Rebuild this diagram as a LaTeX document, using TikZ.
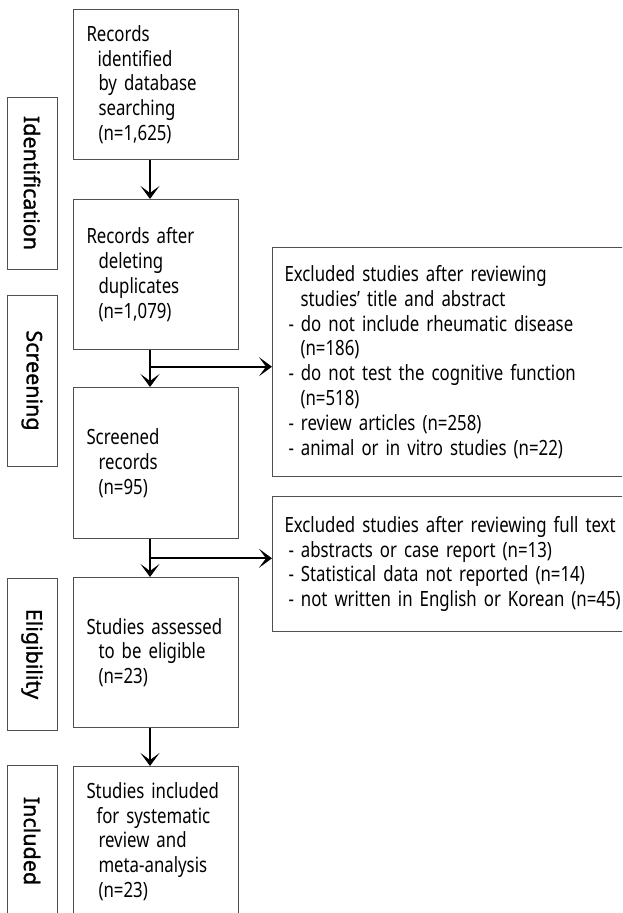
\documentclass[tikz,border=0pt]{standalone}
\usepackage{fontspec}
\setmainfont{Noto Sans}[FakeStretch=0.8]
\newfontfamily\labelfont{Noto Sans}[FakeBold=1.2]
\usetikzlibrary{arrows.meta}
\definecolor{boxgray}{RGB}{80,80,80}
\begin{document}
\begin{tikzpicture}[x=1pt,y=-1pt,
  mainbox/.style={draw=boxgray, line width=1pt, anchor=north west, inner xsep=13pt, inner ysep=0pt,
    text width=139pt, minimum height=150pt, align=left, font=\fontsize{21}{24.8}\selectfont},
  sidebox/.style={draw=boxgray, line width=1pt, rotate=-90, minimum height=50pt, inner sep=0pt,
    font=\labelfont\fontsize{21.5}{22}\selectfont},
  exbox/.style={draw=boxgray, line width=1pt, anchor=north west, inner xsep=12pt, inner ysep=0pt,
    text width=350pt, align=left, font=\fontsize{21}{24.8}\selectfont},
  arr/.style={draw=black, line width=1.8pt, -{Stealth[length=13pt,width=19pt,inset=7pt]}}]
\clip (0,0) rectangle (622,913);
\useasboundingbox (0,0) rectangle (622,913);

% main boxes
\node[mainbox] (b1) at (73,9) {Records\\\hspace*{11pt}identified\\\hspace*{12pt}by database\\\hspace*{12pt}searching\\\hspace*{12pt}(n=1,625)};
\node[mainbox] (b2) at (73,199) {Records after\\\hspace*{12pt}deleting\\\hspace*{12pt}duplicates\\\hspace*{12pt}(n=1,079)};
\node[mainbox, minimum height=151pt] (b3) at (73,387) {Screened\\\hspace*{12pt}records\\\hspace*{12pt}(n=95)};
\node[mainbox] (b4) at (73,577) {Studies assessed\\\hspace*{12pt}to be eligible\\\hspace*{12pt}(n=23)};
\node[mainbox] (b5) at (73,766) {Studies included\\\hspace*{10pt}for systematic\\\hspace*{12pt}review and\\\hspace*{12pt}meta-analysis\\\hspace*{12pt}(n=23)};

% side labels
\node[sidebox, minimum width=172pt] (s1) at (32,183) {Identification};
\node[sidebox, minimum width=171pt] (s2) at (32,380.5) {Screening};
\node[sidebox, minimum width=152pt] (s3) at (32,654) {Eligibility};
\node[sidebox, minimum width=152pt] (s4) at (32,841) {Included};

% excluded boxes
\node[exbox, minimum height=229pt] (e1) at (272,247) {Excluded studies after reviewing\\\hspace*{16pt}studies' title and abstract\\\hspace*{4pt}- do not include rheumatic disease\\\hspace*{16pt}(n=186)\\\hspace*{4pt}- do not test the cognitive function\\\hspace*{16pt}(n=518)\\\hspace*{4pt}- review articles (n=258)\\\hspace*{4pt}- animal or in vitro studies (n=22)};
\node[exbox, minimum height=135pt] (e2) at (272,496) {Excluded studies after reviewing full text\\\hspace*{4pt}- abstracts or case report (n=13)\\\hspace*{4pt}- Statistical data not reported (n=14)\\\hspace*{4pt}- not written in English or Korean (n=45)};

% arrows
\coordinate (ax) at (150,0);
\coordinate (br1) at (0,366.7);
\coordinate (br2) at (0,558.3);
\draw[arr] (b1.south -| ax) -- (b2.north -| ax);
\draw[arr] (b2.south -| ax) -- (b3.north -| ax);
\draw[arr] (b3.south -| ax) -- (b4.north -| ax);
\draw[arr] (b4.south -| ax) -- (b5.north -| ax);
\draw[arr] (ax |- br1) -- (e1.west |- br1);
\draw[arr] (ax |- br2) -- (e2.west |- br2);
\end{tikzpicture}
\end{document}
